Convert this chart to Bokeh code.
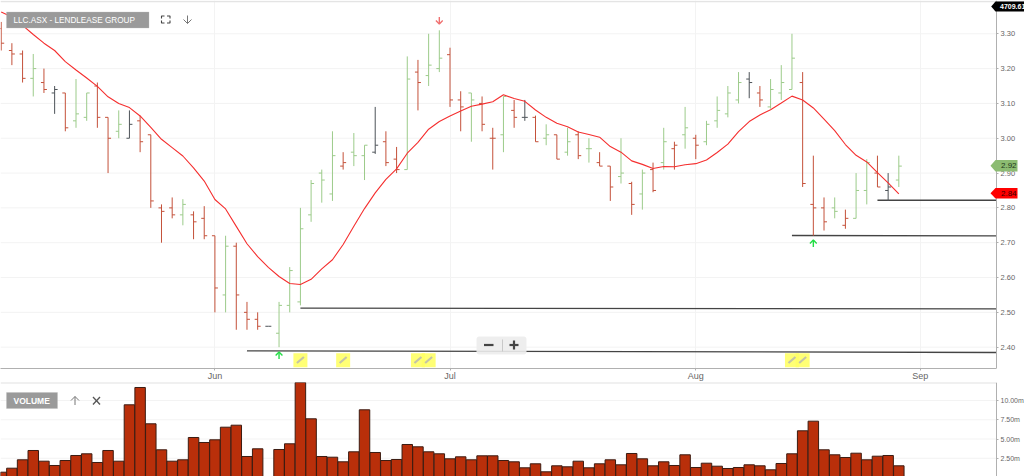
from bokeh.plotting import figure
from bokeh.layouts import column
from bokeh.models import (ColumnDataSource, FixedTicker, Label, PolyAnnotation, BoxAnnotation,
                          NumeralTickFormatter, Range1d)
from bokeh.embed import file_html
from bokeh.resources import INLINE

# ---------- data (one entry per trading bar) ----------
opens = [3.315,3.252,3.242,3.172,3.16,3.13,3.13,3.05,3.06,3.15,3.06,3.02,3.00,3.05,3.01,2.80,2.80,2.78,2.78,2.77,
         2.72,2.55,2.69,2.50,2.48,2.46,2.44,2.52,2.53,2.78,2.90,2.84,2.92,2.96,2.95,2.96,2.99,2.94,2.91,3.19,
         3.18,3.20,3.24,3.11,3.13,3.10,3.00,3.01,3.08,3.06,3.06,3.00,3.01,2.96,3.01,2.97,2.93,2.92,2.89,2.87,
         2.84,2.91,2.93,2.97,3.01,3.00,2.99,3.05,3.07,3.11,3.17,3.13,3.09,3.13,3.14,3.16,2.81,2.80,2.80,2.75,
         2.77,2.85,2.90,2.85,2.88]
highs = [3.334,3.273,3.252,3.242,3.20,3.15,3.13,3.17,3.13,3.16,3.06,3.08,3.08,3.065,3.01,2.81,2.83,2.825,2.79,2.805,
         2.72,2.72,2.70,2.53,2.50,2.46,2.53,2.63,2.80,2.88,2.91,3.02,2.96,3.015,2.98,3.09,3.02,2.975,3.235,3.225,
         3.30,3.31,3.26,3.135,3.13,3.12,3.03,3.12,3.11,3.11,3.065,3.04,3.01,3.03,3.02,3.00,2.96,2.92,3.00,2.875,
         2.91,2.93,3.03,2.99,3.09,3.01,3.05,3.12,3.15,3.19,3.19,3.15,3.17,3.21,3.30,3.19,2.95,2.83,2.83,2.795,
         2.90,2.94,2.95,2.90,2.95]
lows = [3.252,3.21,3.16,3.12,3.13,3.07,3.02,3.03,3.05,3.03,2.90,3.00,3.00,2.96,2.80,2.70,2.77,2.75,2.71,2.71,
        2.50,2.50,2.45,2.45,2.45,2.46,2.40,2.50,2.52,2.76,2.815,2.82,2.91,2.92,2.88,2.955,2.92,2.90,2.91,3.08,
        3.15,3.19,3.09,3.02,2.99,3.02,2.91,2.96,3.03,3.05,2.99,2.98,2.94,2.95,2.94,2.93,2.92,2.82,2.87,2.78,
        2.795,2.845,2.91,2.91,2.97,2.94,2.98,3.03,3.06,3.10,3.115,3.09,3.085,3.11,3.14,2.86,2.72,2.735,2.77,2.74,
        2.77,2.81,2.86,2.82,2.86]
closes = [3.273,3.242,3.172,3.20,3.14,3.14,3.03,3.07,3.13,3.06,3.00,3.04,3.04,2.99,2.82,2.79,2.78,2.81,2.76,2.72,
          2.57,2.69,2.55,2.48,2.46,2.46,2.52,2.62,2.74,2.87,2.88,2.95,2.93,2.95,2.98,2.98,2.93,2.91,3.17,3.16,
          3.21,3.23,3.11,3.09,3.11,3.04,3.00,3.12,3.06,3.06,2.99,3.01,2.94,2.99,2.95,2.97,2.92,2.86,2.90,2.81,
          2.90,2.85,2.99,2.98,3.03,2.98,3.04,3.08,3.13,3.16,3.16,3.11,3.14,3.16,3.23,2.87,2.80,2.76,2.79,2.77,
          2.85,2.93,2.86,2.86,2.92]
bar_dirs = ["r","r","r","g","r","k","r","g","g","r",
            "r","g","k","r","r","r","r","g","r","r",
            "r","g","r","r","r","k","g","g","g","g",
            "g","g","r","g","g","k","r","r","g","r",
            "g","g","r","r","g","r","r","g","r","k",
            "r","g","r","g","r","g","r","r","g","r",
            "g","r","g","r","g","r","g","g","g","g",
            "k","r","g","g","g","r","r","r","g","r",
            "g","g","r","k","g"]
moving_avg = [3.3625,3.348,3.324,3.298,3.273,3.252,3.22,3.196,3.173,3.149,3.119,3.10,3.088,3.064,3.031,2.997,2.973,2.949,2.915,2.877,
              2.824,2.797,2.747,2.697,2.66,2.629,2.603,2.583,2.58,2.595,2.625,2.651,2.695,2.7475,2.798,2.843,2.882,2.912,2.957,2.988,
              3.026,3.048,3.064,3.078,3.092,3.098,3.105,3.125,3.114,3.106,3.081,3.06,3.043,3.033,3.018,3.011,3.003,2.976,2.96,2.935,
              2.925,2.913,2.919,2.918,2.924,2.927,2.9375,2.959,2.983,3.019,3.048,3.067,3.082,3.101,3.121,3.11,3.087,3.055,3.022,2.982,
              2.951,2.932,2.901,2.872,2.84]
volumes = [0.69,1.21,2.3,3.51,2.12,1.56,2.21,2.86,3.08,1.95,3.51,2.12,9.45,11.7,6.98,3.6,2.12,2.3,5.2,4.55,
           4.9,6.54,6.8,2.73,3.73,0,3.64,4.38,12.35,7.63,2.73,2.64,2.04,3.34,8.8,3.25,2.21,2.34,4.29,3.99,
           3.34,3.08,2.43,2.69,2.3,2.82,2.82,2.21,2.04,1.26,1.78,0.74,1.52,1.39,2.12,1.26,1.78,2.3,1.65,3.12,
           2.43,1.52,2.04,1.56,2.95,1.3,1.86,1.47,1.17,1.3,1.65,1.52,1.0,1.82,3.08,6.07,7.32,3.6,2.95,2.6,
           3.16,2.3,2.77,2.86,1.52]
month_ticks = [20, 42, 65, 86]
month_labels = ["Jun", "Jul", "Aug", "Sep"]
price_ticks = [2.40,2.50,2.60,2.70,2.80,2.90,3.00,3.10,3.20,3.30]
volume_ticks = [2.5,5.0,7.5,10.0]
volume_labels = ["2.50m","5.00m","7.50m","10.00m"]
note_bars = [28,32,39,40,74,75]
buy_bars = [26,76]
sell_bars = [41]
level_starts = [23,28,74,82]
level_left = [2.3896,2.512,2.7207,2.822]
level_right = [2.3847,2.510,2.7195,2.822]
last_price = 2.92
ma_last = 2.84
index_label = "4709.61"
title = "LLC.ASX - LENDLEASE GROUP"

# ---------- layout constants ----------
BAR_PX, BAR0_PX = 10.686, 0.7
W, W_PANE, H1, H2 = 1024, 996, 368, 94
X0, X1 = (0 - BAR0_PX) / BAR_PX, (W - BAR0_PX) / BAR_PX
XP = (W_PANE - BAR0_PX) / BAR_PX
Y_TOP, Y_PER = 3.3956, 348.2
Y_BOT = Y_TOP - H1 / Y_PER
V_BOT, V_PER = 0.13, 7.693
V_TOP = V_BOT + H2 / V_PER
FONT = "Liberation Sans"

def dx(px): return (px - BAR0_PX) / BAR_PX
def dy(py): return Y_TOP - py / Y_PER
def vy(py): return V_BOT + (476 - py) / V_PER

GRID = "#f3f3f3"
AXIS = "#b0b0b0"
TICKTXT = "#666666"
COL = {"r": "#c4513a", "g": "#9ccb8a", "k": "#4d5358"}

def style(fig, size, ticks):
    fig.toolbar.logo = None
    fig.outline_line_color = None
    fig.min_border_left = fig.min_border_right = fig.min_border_top = 0
    fig.ygrid.visible = False
    # the pane stops at x = 996, the tick labels live in the strip to its right
    fig.segment([X0] * len(ticks), ticks, [XP] * len(ticks), ticks, line_color=GRID, line_width=1, level="underlay")
    ax = fig.yaxis[0]
    ax.fixed_location = XP
    ax.ticker = FixedTicker(ticks=ticks)
    ax.axis_line_color = AXIS
    ax.major_tick_line_color = AXIS
    ax.major_tick_in = 0
    ax.major_tick_out = 2
    ax.minor_tick_line_color = None
    ax.major_label_standoff = 2
    ax.major_label_text_font = FONT
    ax.major_label_text_font_size = size
    ax.major_label_text_color = TICKTXT

# ---------- price pane ----------
p = figure(frame_width=W, frame_height=H1, x_range=Range1d(X0, X1), y_range=Range1d(Y_BOT, Y_TOP),
           toolbar_location=None, output_backend="svg", y_axis_location="right")
style(p, "7.5px", price_ticks)
p.min_border_bottom = 14
p.yaxis[0].formatter = NumeralTickFormatter(format="0.00")
xa = p.xaxis[0]
xa.bounds = (X0, XP)
xa.ticker = FixedTicker(ticks=month_ticks)
xa.major_label_overrides = dict(zip(month_ticks, month_labels))
xa.axis_line_color = AXIS
xa.major_tick_line_color = AXIS
xa.major_tick_in = 0
xa.major_tick_out = 2
xa.minor_tick_line_color = None
xa.major_label_standoff = 0
xa.major_label_text_font = FONT
xa.major_label_text_font_size = "9px"
xa.major_label_text_color = TICKTXT
p.xgrid.grid_line_color = GRID
p.xgrid.ticker = FixedTicker(ticks=month_ticks)
p.segment([X0], [dy(1)], [X1], [dy(1)], line_color="#e4e4e4", line_width=1.5)

idx = list(range(len(closes)))
colors = [COL[c] for c in bar_dirs]
src = ColumnDataSource(dict(x=idx, o=opens, h=highs, l=lows, c=closes, col=colors,
                            xl=[i - 0.28 for i in idx], xr=[i + 0.28 for i in idx]))
# the level lines sit behind the bars
p.segment(level_starts, level_left, [XP] * 4, level_right, line_color="#444444", line_width=1.3)
p.segment("x", "l", "x", "h", source=src, line_color="col", line_width=1)
p.segment("xl", "o", "x", "o", source=src, line_color="col", line_width=1)
p.segment("x", "c", "xr", "c", source=src, line_color="col", line_width=1)
p.line(idx, moving_avg, line_color="#f52f2f", line_width=1.1)

# note markers
note_w = 14 / BAR_PX
p.quad(left=[n - note_w / 2 for n in note_bars], right=[n + note_w / 2 for n in note_bars],
       top=[dy(352.7)] * 6, bottom=[dy(366.7)] * 6, fill_color="#ffff66", fill_alpha=0.9, line_color=None)
p.segment([n - 3.5 / BAR_PX for n in note_bars], [dy(362.5)] * 6,
          [n + 3.5 / BAR_PX for n in note_bars], [dy(356.5)] * 6, line_color="#c4c4a8", line_width=2.2)

# signal arrows, a few pixels away from the bar extreme
def arrow(bars, tip_py, tail_py, color):
    head = 3.4 if tail_py > tip_py else -3.4
    for b in bars:
        p.multi_line([[b, b], [b - 3.4 / BAR_PX, b, b + 3.4 / BAR_PX]],
                     [[dy(tip_py), dy(tail_py)], [dy(tip_py + head), dy(tip_py), dy(tip_py + head)]],
                     line_color=color, line_width=1.4)
arrow(buy_bars[:1], 351.5, 358.5, "#22dd44")
arrow(buy_bars[1:], 239.5, 246.5, "#22dd44")
arrow(sell_bars, 23.5, 16.5, "#f07070")

def icon(fig_lines, yfn, color="#555555", width=1.2):
    fig_lines[0].multi_line([[dx(x) for x in ln[0]] for ln in fig_lines[1]],
                            [[yfn(y) for y in ln[1]] for ln in fig_lines[1]],
                            line_color=color, line_width=width, level="overlay")

# icons next to the title
icon((p, [([161, 161, 164], [18, 15.5, 15.5]), ([166.5, 169.5, 169.5], [15.5, 15.5, 18]),
          ([161, 161, 164], [20, 22.5, 22.5]), ([166.5, 169.5, 169.5], [22.5, 22.5, 20])]), dy, "#444444", 1.1)
icon((p, [([187, 187], [15, 23]), ([183, 187, 191], [19, 23, 19])]), dy, "#777777", 1.0)

# zoom buttons
p.add_layout(BoxAnnotation(left=dx(476), right=dx(526), top=dy(336), bottom=dy(354),
                           fill_color="#ececec", fill_alpha=0.9, line_color=None, border_radius=3, level="annotation"))
icon((p, [([483.5, 493], [344.5, 344.5]), ([509, 518], [344.5, 344.5]), ([513.5, 513.5], [340, 349])]), dy, "#444444", 2.2)
icon((p, [([502, 502], [339, 351])]), dy, "#c8c8c8", 1.0)

def badge(fig, yfn, ytop, ybot, left, tip, right, fill, text, txtcol, bold):
    ymid = (ytop + ybot) / 2
    fig.add_layout(PolyAnnotation(xs=[dx(tip), dx(left), dx(right), dx(right), dx(left)],
                                  ys=[yfn(ymid), yfn(ytop), yfn(ytop), yfn(ybot), yfn(ybot)],
                                  fill_color=fill, fill_alpha=1, line_color=None, level="overlay"))
    fig.add_layout(Label(x=dx(999.5 if bold else 1000.5), y=yfn(ymid), text=text, text_font=FONT,
                         text_font_size="7px" if bold else "8px", text_color=txtcol,
                         text_baseline="middle", text_font_style="bold" if bold else "normal", level="overlay"))

badge(p, dy, 1, 11, 995, 990.7, 1024, "#000000", index_label, "#ffffff", True)
badge(p, dy, 159.5, 171, 995, 990, 1017, "#8cbc72", f"{last_price:.2f}", "#1e3a1a", False)
badge(p, dy, 187.5, 198, 995, 990, 1017, "#ff0000", f"{ma_last:.2f}", "#3a0000", False)

p.add_layout(BoxAnnotation(left=dx(6), right=dx(148.5), top=dy(11.5), bottom=dy(27.5),
                           fill_color="#9a9a9a", fill_alpha=1, line_color="#b8b8b8", level="annotation"))
p.add_layout(Label(x=dx(13), y=dy(19.5), text=title, text_font=FONT, text_font_size="8.2px",
                   text_color="#ffffff", text_baseline="middle", level="overlay"))

# ---------- volume pane ----------
v = figure(frame_width=W, frame_height=H2, x_range=p.x_range, y_range=Range1d(V_BOT, V_TOP),
           toolbar_location=None, output_backend="svg", y_axis_location="right", margin=(-1, 0, 0, 0))
style(v, "7px", volume_ticks)
v.min_border_bottom = 0
v.xaxis.visible = False
v.xgrid.visible = False
v.yaxis[0].major_label_overrides = dict(zip(volume_ticks, volume_labels))
v.segment([X0], [vy(382.3)], [XP], [vy(382.3)], line_color="#e2e2e2", line_width=1.5)
shown = [i for i in idx if volumes[i] > 0]
v.vbar(x=shown, top=[volumes[i] for i in shown], bottom=0, width=0.98,
       fill_color="#b92f0a", line_color="#3b1c12", line_width=1)
v.add_layout(BoxAnnotation(left=dx(6), right=dx(57), top=vy(392), bottom=vy(408),
                           fill_color="#9a9a9a", fill_alpha=1, line_color="#b8b8b8", level="annotation"))
v.add_layout(Label(x=dx(13), y=vy(400), text="VOLUME", text_font=FONT, text_font_size="8.5px",
                   text_color="#ffffff", text_font_style="bold", text_baseline="middle", level="overlay"))
icon((v, [([74.5, 74.5], [396, 404.5]), ([70.5, 74.5, 78.5], [400, 396, 400])]), vy, "#777777", 1.0)
icon((v, [([92.5, 99.5], [396.5, 404]), ([99.5, 92.5], [396.5, 404])]), vy, "#555555", 1.3)

page = column(p, v, spacing=0)
open("out.html", "w").write(file_html(page, INLINE))
